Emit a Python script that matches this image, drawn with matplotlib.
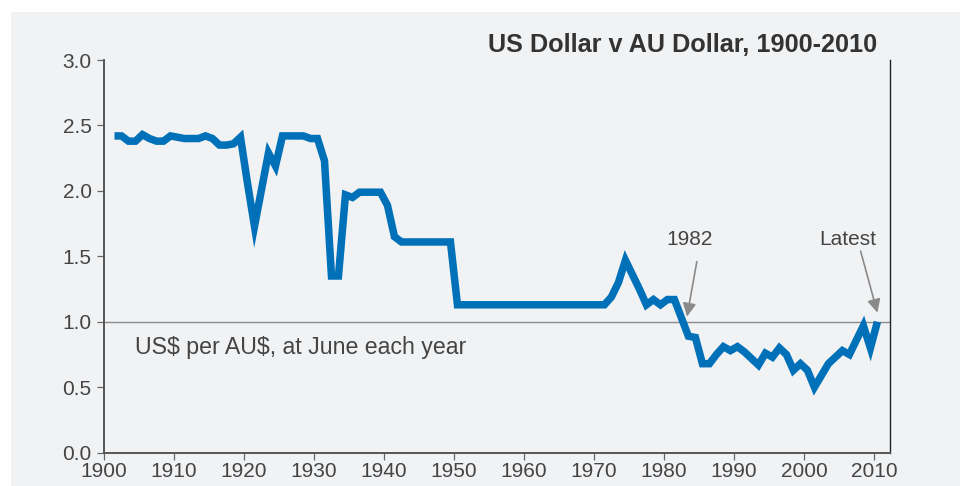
import numpy as np
import matplotlib
matplotlib.use("Agg")
import matplotlib.pyplot as plt
from matplotlib.patches import Rectangle

plt.rcParams["font.family"] = ["Liberation Sans", "DejaVu Sans"]

# US$ per AU$, June each year
years = np.arange(1901, 2011)
usd_per_aud = [
    2.42, 2.42, 2.38, 2.38, 2.43, 2.40, 2.38, 2.38, 2.42, 2.41,  # 1901-1910
    2.40, 2.40, 2.40, 2.42, 2.40, 2.35, 2.35, 2.36, 2.41, 2.06,  # 1911-1920
    1.73, 2.01, 2.29, 2.19, 2.42, 2.42, 2.42, 2.42, 2.40, 2.40,  # 1921-1930
    2.23, 1.35, 1.35, 1.97, 1.95, 1.99, 1.99, 1.99, 1.99, 1.89,  # 1931-1940
    1.65, 1.61, 1.61, 1.61, 1.61, 1.61, 1.61, 1.61, 1.61, 1.13,  # 1941-1950
    1.13, 1.13, 1.13, 1.13, 1.13, 1.13, 1.13, 1.13, 1.13, 1.13,  # 1951-1960
    1.13, 1.13, 1.13, 1.13, 1.13, 1.13, 1.13, 1.13, 1.13, 1.13,  # 1961-1970
    1.13, 1.19, 1.30, 1.47, 1.36, 1.25, 1.13, 1.17, 1.13, 1.17,  # 1971-1980
    1.17, 1.03, 0.89, 0.88, 0.68, 0.68, 0.75, 0.81, 0.78, 0.81,  # 1981-1990
    0.77, 0.72, 0.67, 0.76, 0.73, 0.80, 0.75, 0.63, 0.68, 0.63,  # 1991-2000
    0.50, 0.59, 0.68, 0.73, 0.78, 0.75, 0.86, 0.97, 0.80, 1.00,  # 2001-2010 (latest)
]

x_ticks = list(range(1900, 2011, 10))
y_ticks = [0.0, 0.5, 1.0, 1.5, 2.0, 2.5, 3.0]

blue = "#0070b8"
panel = "#f1f2f4"
txt = "#444444"

fig = plt.figure(figsize=(9.6, 4.86), dpi=100)
fig.patch.set_facecolor("white")
fig.patches.append(Rectangle((11 / 960, 0), 1, 474 / 486, transform=fig.transFigure,
                             facecolor=panel, edgecolor="none", zorder=-10))

ax = fig.add_axes([104 / 960, 1 - 452.7 / 486, 786 / 960, 392.7 / 486])
ax.set_facecolor("none")

# June values sit in the middle of each year
ax.plot(years + 0.5, usd_per_aud, color=blue, lw=5.4,
        solid_joinstyle="miter", solid_capstyle="butt", zorder=3)
ax.axhline(1.0, color="#8a8a8a", lw=1.0, zorder=2)

ax.set_xlim(1900, 2012.3)
ax.set_ylim(0, 3.0)
ax.set_xticks(x_ticks)
ax.set_yticks(y_ticks)
ax.set_yticklabels([f"{v:.1f}" for v in y_ticks])

ax.spines["top"].set_visible(False)
ax.spines["left"].set_color("#555555")
ax.spines["left"].set_linewidth(1.4)
ax.spines["bottom"].set_color("#555555")
ax.spines["bottom"].set_linewidth(1.4)
ax.spines["right"].set_color("#222222")
ax.spines["right"].set_linewidth(1.0)

ax.tick_params(axis="both", colors="#666666", labelcolor=txt, labelsize=15,
               length=5, width=0.9)
ax.tick_params(axis="y", pad=4)
ax.tick_params(axis="x", pad=2)

ax.text(2010.4, 3.02, "US Dollar v AU Dollar, 1900-2010", ha="right", va="bottom",
        fontsize=18.2, fontweight="bold", color="#333333")
ax.text(1904.4, 0.80, r"US\$ per AU\$, at June each year", ha="left", va="center",
        fontsize=16.7, color=txt)

arrow = dict(arrowstyle="-|>", color="#8a8a8a", lw=1.2, mutation_scale=20,
             shrinkA=0, shrinkB=0)
ax.annotate("", xy=(1983.3, 1.04), xytext=(1984.7, 1.46), arrowprops=arrow)
ax.text(1983.7, 1.63, "1982", ha="center", va="center", fontsize=15, color=txt)
ax.annotate("", xy=(2010.5, 1.07), xytext=(2008.1, 1.54), arrowprops=arrow)
ax.text(2006.3, 1.63, "Latest", ha="center", va="center", fontsize=15, color=txt)

fig.savefig("out.png", dpi=100)
